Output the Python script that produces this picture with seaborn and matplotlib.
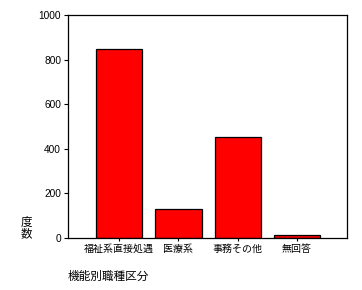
import matplotlib
matplotlib.use("Agg")
import matplotlib.pyplot as plt
import seaborn as sns
import pandas as pd

categories = ["福祉系直接処遇", "医療系", "事務その他", "無回答"]
counts = [850, 129, 453, 16]
y_ticks = [0, 200, 400, 600, 800, 1000]

sns.set_style("white")
plt.rcParams['font.family'] = ['Noto Sans CJK JP', 'DejaVu Sans']
plt.rcParams['text.color'] = 'black'
plt.rcParams['xtick.color'] = 'black'
plt.rcParams['ytick.color'] = 'black'
plt.rcParams['axes.labelcolor'] = 'black'

df = pd.DataFrame({"cat": categories, "n": counts})

fig = plt.figure(figsize=(3.62, 2.9), dpi=100)
ax = fig.add_axes([0.188, 0.179, 0.771, 0.769])
sns.barplot(data=df, x="cat", y="n", color="#ff0000", saturation=1,
            edgecolor="black", linewidth=0.9, width=0.78, ax=ax)
ax.set_xlim(-0.865, 3.85)
ax.set_ylim(0, 1000)
ax.set_yticks(y_ticks)
ax.set_yticklabels([str(v) for v in y_ticks], family=['Liberation Sans'], fontsize=7.3)
ax.tick_params(axis='y', direction='out', length=3, width=0.8, pad=2, left=True)
ax.tick_params(axis='x', direction='out', length=2, width=0.8, pad=2, bottom=True, labelsize=7.2)
for sp in ax.spines.values():
    sp.set_visible(True)
    sp.set_color("black")
    sp.set_linewidth(0.9)
ax.set_xlabel("")
ax.set_ylabel("")
fig.text(68/362, 1 - 276/290, "機能別職種区分", fontsize=8.4, va="center", ha="left")
fig.text(26/362, 1 - 228/290, "度\n数", fontsize=8.3, va="center", ha="center", linespacing=0.9)
fig.savefig("out.png", dpi=100)
